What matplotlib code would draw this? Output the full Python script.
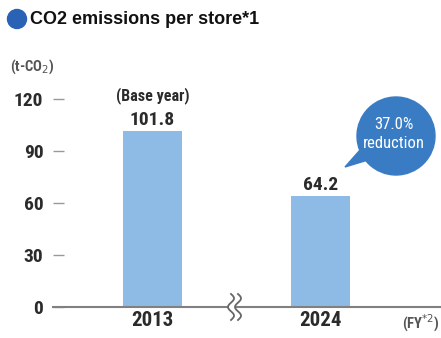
import matplotlib.pyplot as plt
import numpy as np
from matplotlib.patches import Circle, Polygon

years = ['2013', '2024']
emissions = [101.8, 64.2]
notes = ['(Base year)', '']
reduction_text = '37.0%\nreduction'
y_ticks = [0, 30, 60, 90, 120]

narrow = ['Roboto Condensed', 'DejaVu Sans']
bar_color = '#8dbbe6'
blue = '#3a7cc4'
dark = '#2b2b2b'

fig = plt.figure(figsize=(4.41, 3.38), dpi=100)
W, H = 441, 338

# main axes, placed in pixels
x0, x1, y_base, y_top = 53, 441, 307, 85
ax = fig.add_axes([x0 / W, (H - y_base) / H, (x1 - x0) / W, (y_base - y_top) / H])
ymax = 120 * (y_base - y_top) / 208
ax.set_ylim(0, ymax)
ax.set_xlim(-0.59, 1.712)

pos = np.arange(len(years))
bars = ax.bar(pos, emissions, width=0.35, color=bar_color, zorder=2)

for spine in ['top', 'right', 'left']:
    ax.spines[spine].set_visible(False)
ax.spines['bottom'].set_color('#808080')
ax.spines['bottom'].set_linewidth(1.5)

ax.set_yticks(y_ticks)
ax.set_yticklabels([str(t) for t in y_ticks], family=narrow, fontweight='bold',
                   fontsize=14, color=dark)
ax.tick_params(axis='y', direction='in', length=8, width=1, color='#999999', pad=7)
ax.set_xticks(pos)
ax.set_xticklabels(years, family=narrow, fontweight='bold', fontsize=15, color=dark)
ax.tick_params(axis='x', length=0, pad=3)

# value labels above the bars
for p, v, note in zip(pos, emissions, notes):
    ax.annotate(f'{v}', (p, v), xytext=(0, 1), textcoords='offset points',
                ha='center', va='bottom', family=narrow, fontweight='bold',
                fontsize=14, color=dark)
    if note:
        ax.annotate(note, (p, v), xytext=(0, 19), textcoords='offset points',
                    ha='center', va='bottom', family=narrow, fontweight='bold',
                    fontsize=11.5, color=dark)

# overlay in pixel coordinates for title, bubble and axis break
ov = fig.add_axes([0, 0, 1, 1], zorder=5)
ov.set_xlim(0, W)
ov.set_ylim(H, 0)
ov.axis('off')
ov.patch.set_alpha(0)

ov.add_patch(Circle((17, 19), 9.5, color='#2a62b5'))
ov.text(30, 19.5, 'CO2 emissions per store*1', ha='left', va='center',
        family=['Liberation Sans', 'DejaVu Sans'], fontweight='bold',
        fontsize=13, color='#111111')

ov.text(10, 67, '(t-CO$_2$)', ha='left', va='center', family=narrow,
        fontweight='bold', fontsize=10.5, color='#555555')
ov.text(402, 323, '(FY$^{*2}$)', ha='left', va='center', family=narrow,
        fontweight='bold', fontsize=10.5, color='#555555')

# callout bubble
ov.add_patch(Polygon([(360, 150), (368, 160), (345, 167)], closed=True, color=blue))
ov.add_patch(Circle((396, 136), 39, color=blue))
ov.text(394, 134, reduction_text, ha='center', va='center', family=narrow,
        fontweight='normal', fontsize=12, color='white', linespacing=1.3)

# axis break mark
t = np.linspace(0, 1, 60)
yy = 294 + 26 * t
for dx in (0, 7):
    xx = 231 + dx + 3 * np.sin(t * 2 * np.pi * 1.5)
    ov.plot(xx, yy, color='#666666', lw=1.3)
xx = 231 + 3 * np.sin(t * 2 * np.pi * 1.5)
ov.fill_betweenx(yy, xx + 1, xx + 6, color='white')

fig.savefig('out.png', dpi=100)
